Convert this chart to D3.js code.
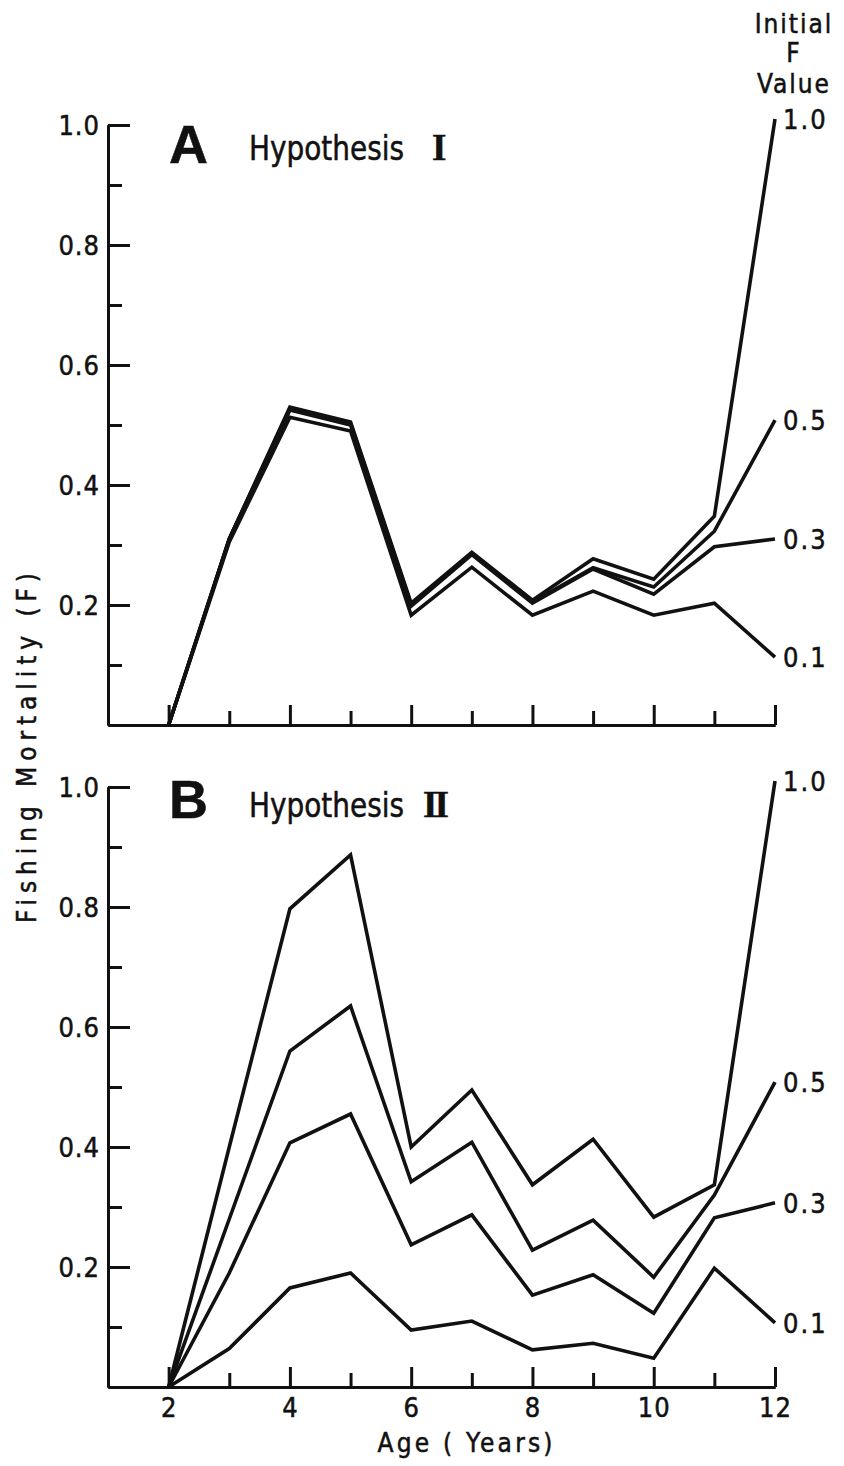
<!DOCTYPE html>
<html>
<head>
<meta charset="utf-8">
<script src="https://cdn.jsdelivr.net/npm/d3@7"></script>
<style>
  body { margin: 0; background: #fff; }
  text {
    font-family: "Liberation Sans Narrow", "DejaVu Sans Condensed", "Roboto Condensed", "Liberation Sans", sans-serif;
    fill: #111;
    stroke: #111;
    stroke-width: 0.5;
  }
  .axis path, .axis line { stroke: #111; stroke-width: 3; }
  .series { fill: none; stroke: #111; stroke-width: 3.6; stroke-linejoin: miter; stroke-miterlimit: 6; }
</style>
</head>
<body>
<svg id="chart" width="844" height="1466"></svg>
<script>
// Ages (years) on the x axis
const ages = [2, 3, 4, 5, 6, 7, 8, 9, 10, 11, 12];

// Initial F values (one line per value)
const initialF = ["1.0", "0.5", "0.3", "0.1"];

// Panel A - Hypothesis I, fishing mortality by age
const hypI_10 = [0, 0.31, 0.53, 0.505, 0.203, 0.288, 0.208, 0.277, 0.243, 0.348, 1.01];
const hypI_05 = [0, 0.31, 0.528, 0.503, 0.2, 0.286, 0.205, 0.262, 0.23, 0.323, 0.508];
const hypI_03 = [0, 0.31, 0.525, 0.5, 0.198, 0.284, 0.203, 0.26, 0.218, 0.297, 0.31];
const hypI_01 = [0, 0.305, 0.513, 0.49, 0.183, 0.263, 0.183, 0.223, 0.183, 0.203, 0.113];

// Panel B - Hypothesis II
const hypII_10 = [0, 0.40, 0.797, 0.887, 0.40, 0.495, 0.337, 0.413, 0.283, 0.337, 1.01];
const hypII_05 = [0, 0.28, 0.56, 0.635, 0.342, 0.408, 0.228, 0.278, 0.183, 0.32, 0.508];
const hypII_03 = [0, 0.19, 0.407, 0.455, 0.237, 0.287, 0.153, 0.187, 0.123, 0.282, 0.307];
const hypII_01 = [0, 0.064, 0.165, 0.19, 0.095, 0.11, 0.062, 0.073, 0.048, 0.198, 0.107];

// Tick values
const yMajorTicks = [0.2, 0.4, 0.6, 0.8, 1.0];
const yMinorTicks = [0.1, 0.3, 0.5, 0.7, 0.9];
const xMajorTicks = [2, 4, 6, 8, 10, 12];
const xMinorTicks = [3, 5, 7, 9, 11];

const panels = [
  { letter: "A", numeral: "I", top: 125, bottom: 725, labels: false,
    series: [hypI_10, hypI_05, hypI_03, hypI_01],
    letterY: 163, titleY: 160, numeralX: 432, numeralSpacing: 0 },
  { letter: "B", numeral: "II", top: 787, bottom: 1387, labels: true,
    series: [hypII_10, hypII_05, hypII_03, hypII_01],
    letterY: 818, titleY: 817, numeralX: 423, numeralSpacing: -3 }
];

const svg = d3.select("#chart");

const x = d3.scaleLinear().domain([1, 12]).range([108, 775]);

const line = d3.line()
  .x(d => x(d.age));

panels.forEach(p => {
  const y = d3.scaleLinear().domain([0, 1]).range([p.bottom, p.top]);

  // y axis: minor then major ticks, pointing inwards
  svg.append("g")
    .attr("class", "axis")
    .attr("transform", `translate(${x(1)},0)`)
    .call(d3.axisLeft(y).tickValues(yMinorTicks).tickSizeInner(-14).tickSizeOuter(0).tickFormat(""));

  const yAxis = svg.append("g")
    .attr("class", "axis")
    .attr("transform", `translate(${x(1)},0)`)
    .call(d3.axisLeft(y).tickValues(yMajorTicks).tickSizeInner(-22).tickSizeOuter(0)
      .tickPadding(8).tickFormat(d3.format(".1f")));
  yAxis.selectAll("text")
    .attr("font-size", 27)
    .attr("letter-spacing", 1)
    .attr("dy", "0.36em");

  // x axis
  svg.append("g")
    .attr("class", "axis")
    .attr("transform", `translate(0,${y(0)})`)
    .call(d3.axisBottom(x).tickValues(xMinorTicks).tickSizeInner(-14).tickSizeOuter(0).tickFormat(""));

  const xAxis = svg.append("g")
    .attr("class", "axis")
    .attr("transform", `translate(0,${y(0)})`)
    .call(d3.axisBottom(x).tickValues(xMajorTicks).tickSizeInner(-20).tickSizeOuter(0)
      .tickPadding(11).tickFormat(p.labels ? d3.format("d") : ""));
  xAxis.selectAll("text")
    .attr("font-size", 27)
    .attr("letter-spacing", 1);

  // lines
  line.y(d => y(d.value));
  p.series.forEach((vals, i) => {
    const pts = ages.map((a, j) => ({ age: a, value: vals[j] }));
    svg.append("path")
      .attr("class", "series")
      .attr("d", line(pts));

    // end label
    svg.append("text")
      .attr("x", 783)
      .attr("y", y(vals[vals.length - 1]) + 10)
      .attr("font-size", 27)
      .attr("letter-spacing", 2)
      .text(initialF[i]);
  });

  // panel letter and title
  svg.append("text")
    .attr("x", 169)
    .attr("y", p.letterY)
    .style("font-family", "'Liberation Sans', Arial, sans-serif")
    .style("font-weight", "bold")
    .attr("font-size", 54)
    .text(p.letter);

  const title = svg.append("text")
    .attr("x", 249)
    .attr("y", p.titleY)
    .attr("font-size", 37);
  title.append("tspan")
    .attr("font-size", 34)
    .attr("textLength", 155)
    .attr("lengthAdjust", "spacingAndGlyphs")
    .text("Hypothesis");
  title.append("tspan")
    .attr("x", p.numeralX)
    .style("font-family", "'Liberation Serif', 'DejaVu Serif', serif")
    .style("font-weight", "bold")
    .attr("letter-spacing", p.numeralSpacing)
    .text(p.numeral);
});

// legend heading at top right
const heading = ["Initial", "F", "Value"];
const headingY = [33, 62, 93];
heading.forEach((t, i) => {
  svg.append("text")
    .attr("x", 794)
    .attr("y", headingY[i])
    .attr("text-anchor", "middle")
    .attr("font-size", 26)
    .attr("letter-spacing", 2)
    .text(t);
});

// axis titles
svg.append("text")
  .attr("x", 465)
  .attr("y", 1452)
  .attr("text-anchor", "middle")
  .attr("font-size", 26)
  .attr("textLength", 175)
  .attr("lengthAdjust", "spacing")
  .text("Age ( Years)");

svg.append("text")
  .attr("transform", "translate(36,748) rotate(-90)")
  .attr("text-anchor", "middle")
  .attr("font-size", 26)
  .attr("textLength", 350)
  .attr("lengthAdjust", "spacing")
  .text("Fishing  Mortality  (F)");
</script>
</body>
</html>
